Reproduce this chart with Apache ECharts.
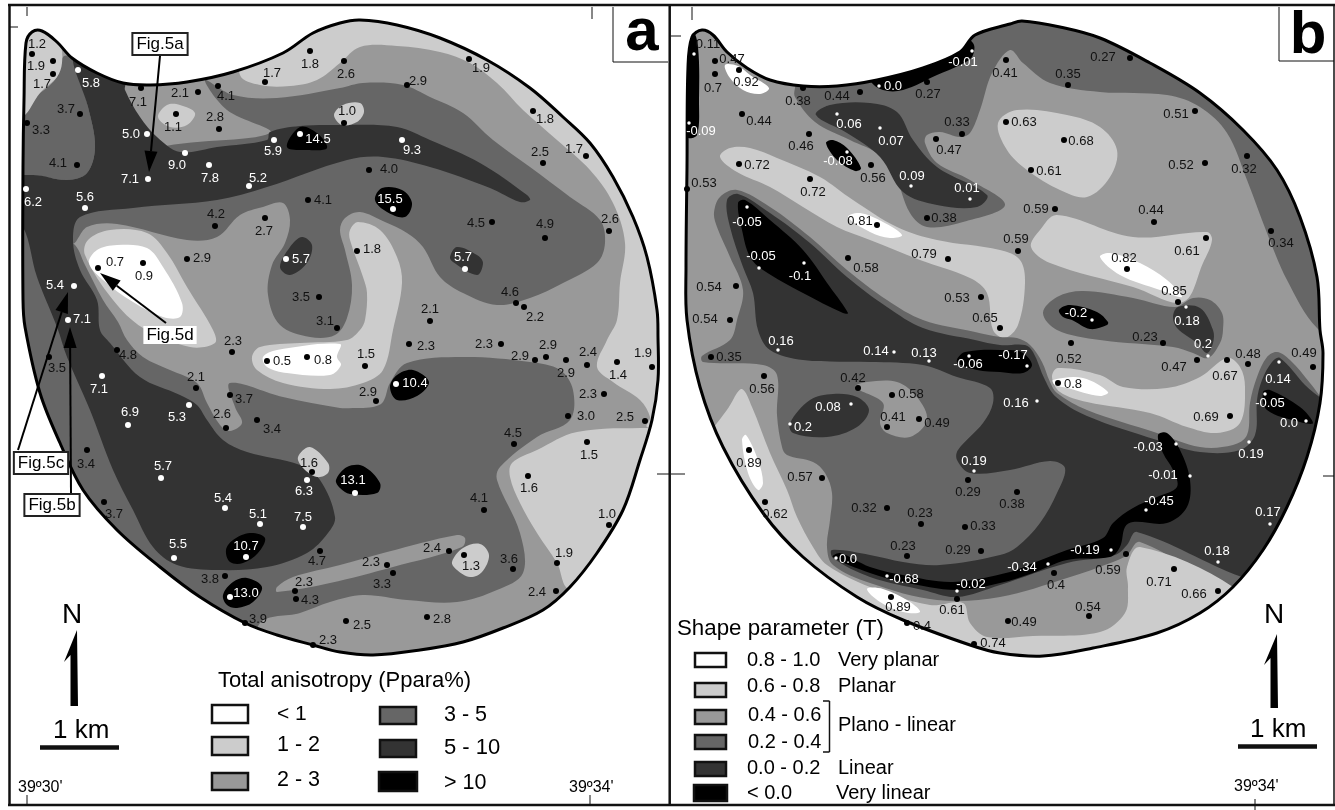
<!DOCTYPE html>
<html><head><meta charset="utf-8">
<style>html,body{margin:0;padding:0;background:#fff}#c{width:1335px;height:810px}</style>
<script src="https://cdn.jsdelivr.net/npm/echarts@6/dist/echarts.min.js"></script></head>
<body><div id="c"></div>
<script>
// class fills: white, light, mid, dark-mid, dark, black
const CLASS_FILLS = ['#ffffff','#cccccc','#999999','#666666','#333333','#000000'];

const BOUNDARY_A = [[23,167],[24,100],[26,43],[32,32],[42,31],[57,42],[72,58],[97,73],[123,83],[150,85],[187,82],[233,72],[283,53],[313,33],[340,23],[360,20],[397,25],[440,38],[487,60],[530,88],[563,117],[590,143],[613,177],[633,217],[647,257],[657,310],[658,337],[658,380],[652,420],[640,460],[623,510],[597,553],[570,587],[543,610],[503,628],[463,642],[420,650],[373,655],[340,652],[313,645],[277,635],[245,623],[200,597],[160,567],[117,530],[83,490],[60,443],[40,393],[25,327],[23,300]];

const BOUNDARY_B = [[687,167],[688,67],[692,37],[702,30],[713,35],[727,52],[747,68],[770,80],[803,86],[837,86],[877,80],[923,68],[960,52],[975,35],[1010,24],[1022,21],[1060,27],[1100,38],[1150,63],[1200,93],[1243,130],[1277,170],[1300,217],[1317,277],[1320,330],[1323,353],[1320,403],[1307,457],[1287,507],[1263,550],[1233,587],[1200,613],[1157,633],[1093,648],[1043,656],[1000,653],[970,645],[903,620],[857,597],[803,557],[763,513],[723,447],[700,387],[687,320],[686,267]];

// layers: [class index, outline], painted in order over a mid-grey base
const LAYERS_A = [
 [1,[[240,75],[260,85],[290,86],[317,80],[340,63],[360,47],[397,46],[440,52],[470,63],[497,83],[523,110],[557,140],[590,170],[613,203],[625,243],[620,283],[617,320],[607,340],[597,367],[613,382],[640,400],[650,417],[647,427],[680,435],[700,300],[640,100],[400,0],[240,20]]],
 [1,[[512,463],[537,450],[577,432],[650,428],[690,430],[660,600],[570,590],[557,563],[537,533],[520,503],[510,477]]],
 [3,[[205,80],[233,95],[277,98],[340,88],[363,83],[403,85],[430,97],[463,113],[493,140],[530,167],[570,197],[600,220],[605,243],[597,263],[563,283],[530,298],[497,305],[463,293],[440,277],[423,247],[407,233],[385,222],[360,212],[345,218],[340,230],[345,250],[352,285],[347,318],[335,335],[310,337],[280,325],[268,295],[272,265],[285,243],[290,220],[283,203],[263,207],[240,215],[217,237],[187,240],[117,224],[87,227],[73,243],[60,200],[150,150],[270,133],[227,110]]],
 [3,[[5,200],[73,243],[85,265],[103,300],[118,322],[127,340],[143,357],[170,370],[197,383],[207,403],[220,425],[230,431],[242,423],[235,407],[230,383],[283,397],[340,408],[353,408],[373,407],[383,402],[390,383],[407,363],[463,357],[530,362],[560,370],[573,390],[570,420],[537,437],[500,467],[497,480],[520,533],[523,573],[497,590],[457,602],[407,600],[363,595],[330,602],[300,613],[260,623],[250,670],[100,570],[15,350]]],
 [3,[[57,77],[63,57],[73,58],[88,107],[95,147],[87,173],[67,180],[33,175],[15,177],[5,150],[5,115],[40,93]]],
 [4,[[73,55],[97,58],[125,82],[125,90],[140,117],[157,137],[180,152],[217,147],[267,140],[270,132],[300,126],[340,125],[397,127],[430,140],[480,163],[527,195],[530,200],[520,202],[490,188],[430,167],[383,157],[347,160],[267,187],[217,200],[133,208],[80,217],[73,240],[80,270],[97,300],[100,330],[110,343],[140,377],[180,395],[197,405],[207,420],[223,440],[247,452],[300,465],[320,480],[335,517],[328,533],[307,553],[267,567],[217,570],[177,565],[153,547],[133,510],[113,470],[90,410],[67,357],[57,327],[37,277],[23,227],[10,227],[10,180],[33,175],[67,180],[87,173],[95,147],[88,107]]],
 [1,[[23,117],[40,93],[57,77],[62,63],[60,43],[40,10],[10,50],[10,117]]],
 [2,[[277,587],[293,577],[340,565],[387,552],[457,535],[465,538],[462,547],[393,567],[330,583],[277,592]]],
 [1,[[452,562],[463,548],[480,544],[489,555],[482,572],[470,577],[457,570]]],
 [1,[[158,117],[167,105],[180,105],[195,113],[187,125],[170,127]]],
 [1,[[334,115],[343,105],[360,103],[364,112],[357,122],[342,125]]],
 [5,[[287,147],[300,127],[317,133],[327,148],[307,150]]],
 [5,[[375,200],[382,188],[402,190],[412,203],[405,217],[387,212]]],
 [4,[[280,267],[290,247],[302,237],[312,245],[307,263],[290,275]]],
 [4,[[450,257],[457,247],[477,255],[483,263],[477,275],[453,262]]],
 [1,[[350,230],[358,222],[380,230],[397,257],[402,283],[393,330],[383,370],[363,383],[330,389],[283,383],[257,370],[252,357],[260,347],[300,343],[347,340],[360,330],[365,320],[367,293],[363,277],[350,240]]],
 [0,[[263,357],[277,350],[340,344],[337,357],[341,365],[330,375],[287,373],[267,367]]],
 [1,[[85,255],[88,240],[110,230],[147,233],[167,253],[187,287],[213,330],[215,343],[190,347],[143,328],[113,300]]],
 [0,[[89,263],[97,250],[117,245],[147,248],[163,267],[182,303],[180,317],[163,317],[133,302],[103,280]]],
 [5,[[390,387],[397,375],[413,370],[429,382],[417,396],[397,400]]],
 [5,[[336,480],[347,467],[363,466],[380,483],[377,493],[350,494],[340,488]]],
 [5,[[226,550],[233,540],[250,533],[265,538],[258,553],[243,563],[230,562]]],
 [5,[[223,595],[233,582],[247,578],[262,587],[253,602],[237,608],[227,605]]],
 [1,[[298,457],[310,447],[328,463],[328,473],[317,477],[303,468]]]
];

const LAYERS_B = [
 [3,[[795,88],[795,97],[815,122],[850,140],[880,155],[895,175],[910,213],[927,227],[963,222],[1005,205],[970,180],[937,163],[925,143],[927,135],[940,132],[960,137],[970,133],[980,110],[992,73],[1010,50],[1023,63],[1050,83],[1100,92],[1167,95],[1200,107],[1227,133],[1247,180],[1267,233],[1287,280],[1317,328],[1345,340],[1260,50],[1040,0],[960,30],[800,70]]],
 [4,[[816,115],[830,105],[870,103],[897,112],[913,140],[937,167],[987,195],[977,207],[937,205],[903,192],[880,157],[847,133]]],
 [5,[[870,80],[883,90],[903,90],[937,75],[960,65],[972,57],[973,43],[950,30],[870,60]]],
 [5,[[692,30],[698,47],[699,100],[697,135],[687,137],[675,100],[680,35]]],
 [5,[[826,143],[833,140],[847,148],[861,168],[855,171],[837,160]]],
 [0,[[725,65],[738,66],[750,75],[769,88],[760,94],[743,90],[730,78]]],
 [1,[[720,157],[730,148],[750,148],[777,158],[820,177],[853,200],[897,227],[937,240],[1000,250],[1020,260],[1025,283],[1018,325],[1005,338],[993,330],[987,293],[970,278],[920,260],[870,240],[837,227],[803,207],[770,187],[737,172]]],
 [0,[[848,217],[860,213],[883,222],[902,235],[890,238],[870,232]]],
 [3,[[714,213],[720,197],[737,190],[770,207],[810,237],[847,270],[887,300],[923,320],[975,332],[1000,337],[1017,338],[1030,345],[1042,362],[1050,382],[1057,393],[1087,410],[1157,433],[1200,447],[1233,445],[1247,435],[1250,403],[1257,377],[1267,357],[1277,352],[1290,360],[1310,383],[1325,403],[1345,430],[1345,600],[1233,590],[1140,542],[1127,555],[1113,562],[1067,578],[1000,597],[937,600],[870,583],[833,565],[827,547],[830,520],[832,493],[825,473],[813,462],[787,455],[782,447],[777,415],[777,375],[763,365],[703,362],[702,356],[730,340],[737,320],[743,290],[730,257],[717,227]]],
 [4,[[727,200],[738,194],[770,213],[810,243],[847,277],[887,307],[923,328],[975,340],[1000,345],[1025,345],[1033,352],[1045,380],[1056,397],[1087,416],[1157,440],[1200,452],[1240,450],[1255,435],[1257,400],[1262,380],[1272,362],[1280,358],[1305,385],[1335,415],[1345,500],[1300,590],[1242,577],[1137,532],[1127,545],[1115,555],[1067,563],[1000,585],[957,597],[923,590],[870,577],[833,558],[832,550],[870,555],[903,562],[940,565],[1000,555],[1017,547],[1040,523],[1057,493],[1065,468],[1050,461],[1010,470],[970,473],[957,460],[958,450],[983,423],[993,403],[990,388],[957,377],[923,365],[870,362],[803,360],[770,350],[758,330],[753,293],[743,267],[730,227]]],
 [5,[[738,203],[745,200],[770,220],[803,250],[830,287],[848,313],[843,313],[803,293],[763,270],[750,257],[742,230]]],
 [5,[[957,362],[965,352],[1010,350],[1023,353],[1032,365],[1023,373],[1000,372],[977,370]]],
 [5,[[833,557],[840,553],[870,567],[903,575],[953,582],[1010,572],[1033,563],[1067,550],[1103,538],[1113,523],[1133,508],[1157,497],[1177,487],[1173,470],[1163,453],[1158,435],[1167,433],[1180,450],[1190,480],[1187,507],[1167,523],[1133,522],[1125,527],[1120,547],[1110,557],[1067,560],[1033,573],[1000,583],[957,590],[903,582],[870,573]]],
 [5,[[1263,392],[1270,390],[1300,407],[1313,423],[1300,422],[1267,410]]],
 [1,[[1052,377],[1058,368],[1100,375],[1123,387],[1167,388],[1200,377],[1227,358],[1240,367],[1245,387],[1240,423],[1217,433],[1187,427],[1150,413],[1087,402],[1060,392]]],
 [0,[[1053,380],[1083,378],[1108,392],[1100,396],[1067,388],[1055,385]]],
 [3,[[1043,313],[1057,297],[1083,291],[1133,298],[1175,307],[1193,298],[1210,300],[1222,313],[1223,330],[1220,343],[1208,358],[1193,353],[1173,347],[1100,340],[1057,330]]],
 [4,[[1173,317],[1178,307],[1200,308],[1213,330],[1213,343],[1207,353],[1197,343],[1177,328]]],
 [5,[[1059,310],[1070,305],[1097,312],[1108,322],[1107,325],[1090,329],[1072,320],[1063,317]]],
 [1,[[998,123],[1017,110],[1067,115],[1100,127],[1117,150],[1110,177],[1087,197],[1060,190],[1027,170],[1007,150]]],
 [1,[[1031,247],[1040,230],[1057,215],[1133,237],[1207,232],[1212,240],[1203,263],[1183,302],[1133,287],[1050,263]]],
 [0,[[1100,257],[1110,253],[1140,263],[1167,280],[1182,297],[1160,290],[1120,275]]],
 [2,[[855,387],[867,382],[897,382],[917,397],[927,420],[910,437],[887,433],[880,423],[883,403]]],
 [4,[[790,423],[810,400],[833,394],[857,397],[869,410],[857,427],[827,437],[793,433]]],
 [1,[[733,400],[742,389],[752,407],[770,453],[787,490],[797,517],[813,547],[827,565],[870,587],[930,605],[963,603],[970,623],[987,637],[1033,636],[1100,632],[1125,613],[1128,587],[1127,567],[1140,547],[1233,587],[1255,625],[1100,690],[900,660],[700,470]]],
 [0,[[742,440],[746,435],[758,460],[763,483],[758,490],[748,473]]],
 [0,[[867,589],[883,589],[910,602],[920,612],[903,612],[880,602]]]
];

// sample sites: [x, y, value text, label x, label y]
const SITES_A_BLACK = [
[32,54,'1.2',37,44],[53,61,'1.9',36,66],[53,74,'1.7',42,84],[80,114,'3.7',66,109],[27,123,'3.3',41,130],[77,165,'4.1',58,163],[141,88,'7.1',138,102],[198,92,'2.1',180,93],[218,86,'4.1',226,96],[176,114,'1.1',173,127],[219,129,'2.8',215,117],[265,82,'1.7',272,73],[310,51,'1.8',310,64],[308,200,'4.1',323,200],[215,226,'4.2',216,214],[265,218,'2.7',264,231],[187,259,'2.9',202,258],[98,268,'0.7',115,262],[143,263,'0.9',144,276],[319,297,'3.5',301,297],[337,328,'3.1',325,321],
[344,61,'2.6',346,74],[407,85,'2.9',418,81],[344,123,'1.0',347,111],[469,59,'1.9',481,68],[533,111,'1.8',545,119],[543,163,'2.5',540,152],[586,156,'1.7',574,149],[369,170,'4.0',389,169],[492,222,'4.5',476,223],[545,238,'4.9',545,224],[609,231,'2.6',610,219],[357,251,'1.8',372,249],[516,303,'4.6',510,292],[524,307,'2.2',535,317],[430,321,'2.1',430,309],
[409,344,'2.3',426,346],[501,344,'2.3',484,344],[535,360,'2.9',520,356],[546,357,'2.9',548,345],[566,360,'2.9',566,373],[587,365,'2.4',588,352],[617,362,'1.4',618,375],[652,367,'1.9',643,353],[604,394,'2.3',588,394],[568,416,'3.0',586,416],[645,421,'2.5',625,417],[587,442,'1.5',589,455],[514,444,'4.5',513,433],[528,476,'1.6',529,488],[484,510,'4.1',479,498],[609,525,'1.0',607,514],[557,563,'1.9',564,553],[449,551,'2.4',432,548],[464,555,'1.3',471,566],[513,569,'3.6',509,559],[556,591,'2.4',537,592],[387,565,'2.3',371,562],[393,573,'3.3',382,584],[427,617,'2.8',442,619],[346,621,'2.5',362,625],[365,366,'1.5',366,354],[376,401,'2.9',368,392],
[232,352,'2.3',233,341],[267,361,'0.5',282,361],[307,357,'0.8',323,360],[117,350,'4.8',128,355],[49,357,'3.5',57,368],[196,388,'2.1',196,377],[230,395,'3.7',244,399],[257,420,'3.4',272,429],[226,428,'2.6',222,414],[87,450,'3.4',86,464],[312,472,'1.6',309,463],[104,502,'3.7',114,514],[320,551,'4.7',317,561],[225,576,'3.8',210,579],[295,591,'2.3',304,582],[296,599,'4.3',310,600],[245,623,'3.9',258,619],[313,645,'2.3',328,640]];
const SITES_A_WHITE = [
[78,70,'5.8',91,83],[147,134,'5.0',131,134],[185,153,'9.0',177,165],[274,140,'5.9',273,151],[300,134,'14.5',318,139],[148,179,'7.1',130,179],[209,165,'7.8',210,178],[249,186,'5.2',258,178],[26,189,'6.2',33,202],[85,208,'5.6',85,197],[286,259,'5.7',301,259],[74,286,'5.4',55,285],[68,320,'7.1',82,319],[402,140,'9.3',412,150],[393,209,'15.5',390,199],[465,269,'5.7',463,257],[102,376,'7.1',99,389],[128,425,'6.9',130,412],[189,405,'5.3',177,417],[161,478,'5.7',163,466],[225,508,'5.4',223,498],[260,524,'5.1',258,514],[303,527,'7.5',303,517],[307,480,'6.3',304,491],[174,558,'5.5',178,544],[246,557,'10.7',246,546],[230,597,'13.0',246,593],[396,384,'10.4',415,383],[355,493,'13.1',353,480]];
const SITES_B_BLACK = [
[715,61,'0.47',732,59],[715,74,'0.7',713,88],[739,70,'0.92',746,82],[742,114,'0.44',759,121],[803,88,'0.38',798,101],[860,92,'0.44',837,96],[927,82,'0.27',928,94],[962,134,'0.33',957,122],[936,139,'0.47',949,150],[809,134,'0.46',801,146],[871,165,'0.56',873,178],[739,164,'0.72',757,165],[810,179,'0.72',813,192],[687,189,'0.53',704,183],[927,218,'0.38',944,218],[877,225,'0.81',860,221],[948,259,'0.79',924,254],[848,258,'0.58',866,268],[736,286,'0.54',709,287],[730,320,'0.54',705,319],[981,297,'0.53',957,298],[1000,328,'0.65',985,318],
[1006,60,'0.41',1005,73],[1068,85,'0.35',1068,74],[1130,58,'0.27',1103,57],[1006,122,'0.63',1024,122],[1064,140,'0.68',1081,141],[1031,170,'0.61',1049,171],[1195,111,'0.51',1176,114],[1205,163,'0.52',1181,165],[1247,156,'0.32',1244,169],[1055,209,'0.59',1036,209],[1154,222,'0.44',1151,210],[1271,231,'0.34',1281,243],[1206,238,'0.61',1187,251],[1018,251,'0.59',1016,239],[1127,269,'0.82',1124,258],[1178,302,'0.85',1174,291],
[1163,343,'0.23',1145,337],[1071,343,'0.52',1069,359],[1197,360,'0.47',1174,367],[1227,360,'0.67',1225,376],[1248,364,'0.48',1248,354],[1313,367,'0.49',1304,353],[1058,383,'0.8',1073,384],[1230,416,'0.69',1206,417],[1017,492,'0.38',1012,504],[1126,554,'0.59',1108,570],[1054,573,'0.4',1056,585],[1174,569,'0.71',1159,582],[1218,591,'0.66',1194,594],[1089,616,'0.54',1088,607],[1008,621,'0.49',1024,622],
[711,357,'0.35',729,357],[764,376,'0.56',762,389],[858,388,'0.42',853,378],[892,395,'0.58',911,394],[887,427,'0.41',893,417],[919,419,'0.49',937,423],[749,450,'0.89',749,463],[822,478,'0.57',800,477],[765,502,'0.62',775,514],[968,480,'0.29',968,492],[887,508,'0.32',864,508],[921,524,'0.23',920,513],[965,527,'0.33',983,526],[907,556,'0.23',903,546],[981,551,'0.29',958,550],[891,597,'0.89',898,607],[957,599,'0.61',952,610],[907,623,'0.4',922,626],[974,644,'0.74',993,643]];
const SITES_B_WHITE = [
[689,123,'-0.09',701,131],[972,51,'-0.01',963,62],[879,86,'0.0',893,86],[837,114,'0.06',849,124],[880,128,'0.07',891,141],[847,152,'-0.08',838,161],[911,186,'0.09',912,176],[970,199,'0.01',967,188],[747,207,'-0.05',747,222],[759,268,'-0.05',761,256],[804,263,'-0.1',800,276],[1092,320,'-0.2',1076,313],[1186,307,'0.18',1187,321],[1208,356,'0.2',1203,344],[1027,366,'-0.17',1013,355],[1037,401,'0.16',1016,403],[1279,362,'0.14',1278,379],[1265,394,'-0.05',1270,403],[1306,421,'0.0',1289,423],[1176,444,'-0.03',1148,447],[1249,442,'0.19',1251,454],[1190,476,'-0.01',1163,475],[1146,510,'-0.45',1159,501],[1270,524,'0.17',1268,512],[1111,550,'-0.19',1085,550],[1048,564,'-0.34',1022,567],[1218,562,'0.18',1217,551],[778,350,'0.16',781,341],[894,352,'0.14',876,351],[929,361,'0.13',924,353],[969,356,'-0.06',968,364],[851,404,'0.08',828,407],[790,424,'0.2',803,427],[974,471,'0.19',974,461],[836,558,'0.0',848,559],[887,576,'-0.68',904,579],[957,591,'-0.02',971,584]];
const SITES_B_MIXED = [[694,54,'0.11',708,44]];

// figure call-outs: [x, y, text]
const FIG_BOXES = [[160,44,'Fig.5a'],[41,463,'Fig.5c'],[52,505,'Fig.5b']];
const FIG_PLAIN = [[170,335,'Fig.5d']];
// arrows: [from x, from y, to x, to y]
const ARROWS = [[160,56,149,172],[18,450,68,292],[71,493,70,327],[166,323,100,273]];

// frame, ticks, scale bars and bracket: [x1,y1,x2,y2,width]
const RULES = [[8,5,1335,5,2.5],[9.5,5,9.5,806,2.5],[8,805,1335,805,2.5],[669.7,5,669.7,806,2.5],[1334,5,1334,806,1.5],
[27,7,27,16,1],[10,27,18,27,1],[592,7,592,19,1],[657,474,669,474,1],[27,795,27,806,1],[590,795,590,806,1],
[692,7,692,20,1],[671,36,681,36,1],[671,474,685,474,1],[1323,476,1334,476,1],[1255,799,1255,810,1],
[613,7,613,62,1],[613,62,668,62,1],[1279,7,1279,61,1],[1279,61,1334,61,1],
[40,747.5,119,747.5,4.5],[1238,746.5,1317,746.5,4.5],
[823,701,829.5,701,1.5],[829.5,701,829.5,752,1.5],[829.5,752,823,752,1.5]];
// north arrow shapes
const NORTH = [[[77,630],[78,706],[70.5,706],[70.5,655],[64,662]],[[1277,634],[1278,708],[1270.5,708],[1270.5,658],[1264,665]]];
// legend keys: [x1,y1,x2,y2,class index]
const KEYS = [[212,705,248,723,0],[212,737,248,755,1],[212,773,248,790,2],[380,707,416,724,3],[380,740,416,757,4],[379,772,417,791,5],
[695,653,726,667,0],[695,683,726,697,1],[695,710,726,724,2],[695,735,726,749,3],[695,762,726,776,4],[694,785,727,801,5]];
// captions: [x, y, text, size]
const CAPTIONS = [[218,681,'Total anisotropy (Ppara%)',22],[277,714,'< 1',21],[277,745,'1 - 2',21.5],[277,780,'2 - 3',21.5],[444,715,'3 - 5',21.5],[444,748,'5 - 10',22],[444,783,'> 10',21.5],
[677,629,'Shape parameter (T)',22.3],[747,660,'0.8 - 1.0',20],[747,686,'0.6 - 0.8',20],[748,715,'0.4 - 0.6',20],[748,742,'0.2 - 0.4',20],[747,768,'0.0 - 0.2',20],[747,793,'< 0.0',20],
[838,660,'Very planar',20],[838,686,'Planar',20],[838,725,'Plano - linear',20],[838,768,'Linear',20],[836,793,'Very linear',20],
[18,788,'39º30\'',16],[569,788,'39º34\'',16],[1234,787,'39º34\'',16],
[62,615,'N',28],[1264,615,'N',28],[53,731,'1 km',26],[1250,730,'1 km',26]];
const PANEL_TAGS = [[642,33,'a'],[1308,36,'b']];

const FONT = '"Liberation Sans",Arial,sans-serif';
const poly = (api, pts) => pts.map(p => api.coord(p));

function regionSeries(boundary, layers, z){
  return {type:'custom', coordinateSystem:'cartesian2d', z, silent:true, clip:false,
    data:[[-1,0]].concat(layers.map((l,i)=>[i,0])), dimensions:['i','v'],
    encode:{x:0,y:1},
    renderItem(params, api){
      const idx = params.dataIndex - 1;
      const clipShape = {points:poly(api,boundary), smooth:0.35};
      if(idx < 0) return {type:'polygon', shape:clipShape, style:{fill:CLASS_FILLS[2]}};
      const l = layers[idx];
      return {type:'polygon', shape:{points:poly(api,l[1]), smooth:0.35},
        style:{fill:CLASS_FILLS[l[0]]}, clipPath:{type:'polygon', shape:clipShape}};
    }};
}
function outlineSeries(boundary){
  return {type:'custom', coordinateSystem:'cartesian2d', z:4, silent:true, clip:false,
    data:[[0,0]], encode:{x:0,y:1},
    renderItem(p, api){
      return {type:'polygon', shape:{points:poly(api,boundary), smooth:0.35},
        style:{fill:'none', stroke:'#000', lineWidth:3}};
    }};
}
function siteSeries(rows, dot, size){
  return {type:'scatter', z:6, silent:true, symbolSize:size, itemStyle:{color:dot, opacity:1},
    data:rows.map(r=>[r[0],r[1]])};
}
function textSeries(rows, label, z){
  return {type:'scatter', z:z||7, silent:true, symbolSize:1, itemStyle:{color:'rgba(0,0,0,0)', opacity:1},
    data:rows.map(r=>({value:[r[0],r[1]], name:r[2], label:r[3]?{fontSize:r[3]}:{}})),
    label:Object.assign({show:true, position:'inside', formatter:'{b}', color:'#000', fontFamily:FONT}, label),
    emphasis:{disabled:true}};
}
const siteLabels = (rows, color) => textSeries(rows.map(r=>[r[3],r[4],r[2]]),{fontSize:13,color});
const ruleSeries = {type:'custom', coordinateSystem:'cartesian2d', z:8, silent:true, clip:false,
  data:RULES.map(r=>[r[0],r[1]]), encode:{x:0,y:1},
  renderItem(p, api){
    const r = RULES[p.dataIndex], a = api.coord([r[0],r[1]]), b = api.coord([r[2],r[3]]);
    return {type:'line', shape:{x1:a[0],y1:a[1],x2:b[0],y2:b[1]}, style:{stroke:'#111',lineWidth:r[4]}};
  }};
const keySeries = {type:'custom', coordinateSystem:'cartesian2d', z:8, silent:true, clip:false,
  data:KEYS.map(r=>[r[0],r[1]]), encode:{x:0,y:1},
  renderItem(p, api){
    const r = KEYS[p.dataIndex], a = api.coord([r[0],r[1]]), b = api.coord([r[2],r[3]]);
    return {type:'rect', shape:{x:a[0],y:a[1],width:b[0]-a[0],height:b[1]-a[1]},
      style:{fill:CLASS_FILLS[r[4]], stroke:'#111', lineWidth:2.5}};
  }};
const northSeries = {type:'custom', coordinateSystem:'cartesian2d', z:8, silent:true, clip:false,
  data:NORTH.map(r=>r[0]), encode:{x:0,y:1},
  renderItem(p, api){
    return {type:'polygon', shape:{points:poly(api,NORTH[p.dataIndex])}, style:{fill:'#000'}};
  }};
const arrowSeries = {type:'custom', coordinateSystem:'cartesian2d', z:9, silent:true, clip:false,
  data:ARROWS.map(r=>[r[0],r[1]]), encode:{x:0,y:1},
  renderItem(p, api){
    const r = ARROWS[p.dataIndex], a = api.coord([r[0],r[1]]), b = api.coord([r[2],r[3]]);
    const dx=b[0]-a[0], dy=b[1]-a[1], L=Math.hypot(dx,dy), ux=dx/L, uy=dy/L, h=21, w=6.5;
    const bx=b[0]-ux*h, by=b[1]-uy*h;
    return {type:'group', children:[
      {type:'line', shape:{x1:a[0],y1:a[1],x2:bx,y2:by}, style:{stroke:'#000',lineWidth:2}},
      {type:'polygon', shape:{points:[b,[bx-uy*w,by+ux*w],[bx+uy*w,by-ux*w]]}, style:{fill:'#000'}}
    ]};
  }};

const chart = echarts.init(document.getElementById('c'));
chart.setOption({
  animation:false, backgroundColor:'#fff', tooltip:{show:false}, legend:{show:false},
  grid:{left:0,right:0,top:0,bottom:0},
  xAxis:{type:'value',min:0,max:1335,show:false},
  yAxis:{type:'value',min:0,max:810,inverse:true,show:false},
  series:[
    regionSeries(BOUNDARY_A, LAYERS_A, 2),
    regionSeries(BOUNDARY_B, LAYERS_B, 2),
    outlineSeries(BOUNDARY_A), outlineSeries(BOUNDARY_B),
    siteSeries(SITES_A_BLACK,'#000',6), siteLabels(SITES_A_BLACK,'#111'),
    siteSeries(SITES_A_WHITE,'#fff',6), siteLabels(SITES_A_WHITE,'#fff'),
    siteSeries(SITES_B_BLACK,'#000',6), siteLabels(SITES_B_BLACK,'#111'),
    siteSeries(SITES_B_WHITE,'#fff',3.5), siteLabels(SITES_B_WHITE,'#fff'),
    siteSeries(SITES_B_MIXED,'#fff',3.5), siteLabels(SITES_B_MIXED,'#111'),
    ruleSeries, keySeries, northSeries, arrowSeries,
    textSeries(CAPTIONS,{align:'left',color:'#000'}),
    textSeries(FIG_BOXES,{fontSize:17,backgroundColor:'#fff',borderColor:'#222',borderWidth:2,padding:[2,3,1,3]},10),
    textSeries(FIG_PLAIN,{fontSize:17,backgroundColor:'#fff',padding:[1,3,0,3]},10),
    textSeries(PANEL_TAGS,{fontSize:60,fontWeight:'bold',color:'#000'})
  ]
});
</script></body></html>
